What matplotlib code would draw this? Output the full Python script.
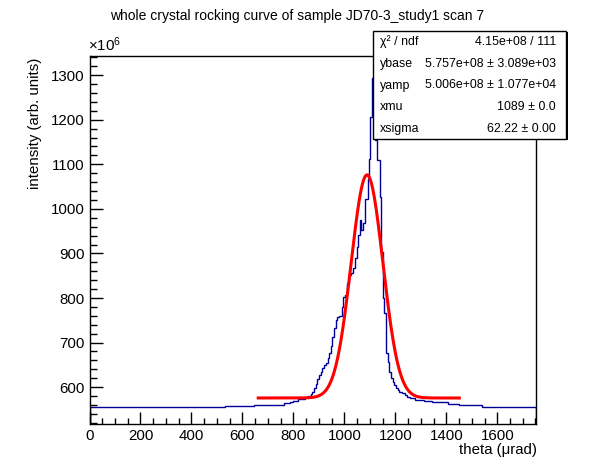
import numpy as np
import matplotlib
matplotlib.use('Agg')
import matplotlib.pyplot as plt
from matplotlib.patches import Rectangle
from matplotlib.ticker import MultipleLocator

plt.rcParams['font.family'] = ['Liberation Sans', 'DejaVu Sans']
plt.rcParams['mathtext.fontset'] = 'custom'
plt.rcParams['mathtext.rm'] = 'Liberation Sans'

# bordes de los bins (urad)
edges = [0, 7, 14, 21, 28, 42, 49, 70, 77, 98, 105, 530, 645, 765, 787, 800,
         820, 846, 859, 868, 875, 881, 888, 894.5, 901, 907.6, 914, 920.7,
         927, 934, 940, 947, 953, 960, 966.5, 973, 980, 990, 996.6, 1003,
         1010, 1019, 1025, 1032, 1040, 1049, 1055.5, 1062, 1066, 1072.5,
         1081.7, 1091, 1096, 1102, 1108, 1120, 1130, 1140.6, 1144.5,
         1151, 1156.3, 1162.8, 1169.4, 1176, 1182.5, 1189, 1195.6, 1202,
         1208.6, 1215.2, 1225.7, 1236.1, 1245.3, 1258.4, 1278, 1310.7,
         1343.4, 1407, 1451, 1541, 1612, 1752]
# contenido de cada bin (x1e6)
counts = [556.5, 555, 556, 555, 555.5, 554.5, 555, 556, 555, 556, 555,
          557.5, 561, 564, 567.7, 570, 573, 577.6, 580.5, 584, 590, 598,
          607, 618, 627.6, 635, 642.6, 650, 655, 665, 676, 692.6, 713.5,
          732, 751, 758, 760, 780.7, 801.8, 807, 833, 852, 856, 867, 889,
          915, 941.5, 975, 953, 968, 1022, 1066, 1112, 1206, 1294, 1155,
          1110, 1027, 904, 800, 766, 676, 657, 635, 620, 612.6, 605, 598,
          594, 590, 586.5, 582.7, 579, 575, 571.5, 570, 566, 562.6, 559.6,
          556.5, 555]

# parametros del ajuste (x1e6 para las alturas)
ybase = 575.7
yamp = 500.6
xmu = 1089.0
xsigma = 62.22
fit_range = (662, 1451)

# caja de estadisticas
stat_names = ['χ² / ndf', 'ybase', 'yamp', 'xmu', 'xsigma']
stat_values = ['4.15e+08 / 111', '5.757e+08 ± 3.089e+03',
               '5.006e+08 ± 1.077e+04', '1089 ± 0.0', '62.22 ± 0.00']

W, H = 596, 472
fig = plt.figure(figsize=(W / 100, H / 100), dpi=100)
ax = fig.add_axes([89.5 / W, 1 - 423.7 / H, (536 - 89.5) / W, (423.7 - 56) / H])

# histograma
ax.stairs(counts, edges, color='#000099', lw=1.0)

# curva del ajuste
xf = np.linspace(fit_range[0], fit_range[1], 500)
yf = ybase + yamp * np.exp(-0.5 * ((xf - xmu) / xsigma) ** 2)
ax.plot(xf, yf, color='#ff0000', lw=2.2)

ax.set_xlim(0, 1752)
ax.set_ylim(518, 1343)
ax.xaxis.set_major_locator(MultipleLocator(200))
ax.xaxis.set_minor_locator(MultipleLocator(50))
ax.yaxis.set_major_locator(MultipleLocator(100))
ax.yaxis.set_minor_locator(MultipleLocator(20))
ax.tick_params(axis='both', which='both', direction='in', top=False, right=False,
               labelsize=10.8, width=1)
ax.tick_params(axis='x', which='major', length=8.6, pad=4)
ax.tick_params(axis='x', which='minor', length=4.3)
ax.tick_params(axis='y', which='major', length=9.5, pad=3.5)
ax.tick_params(axis='y', which='minor', length=5)
for s in ax.spines.values():
    s.set_linewidth(1)

# textos
fig.text(297 / W, 1 - 16 / H, 'whole crystal rocking curve of sample JD70-3_study1 scan 7',
         ha='center', va='center', fontsize=10)
fig.text(537 / W, 1 - 450 / H, 'theta (μrad)', ha='right', va='center', fontsize=10.8)
fig.text(35 / W, 1 - 58 / H, 'intensity (arb. units)', ha='center', va='top',
         rotation=90, fontsize=10.8)
fig.text(88 / W, 1 - 54 / H, r'$\mathregular{\times10^{6}}$', ha='left', va='bottom',
         fontsize=10.8)

# caja de estadisticas con sombra
bx0, by0, bx1, by1 = 373, 31, 566, 139
fig.patches.append(Rectangle(((bx0 + 1.5) / W, 1 - (by1 + 1.5) / H), (bx1 - bx0) / W,
                             (by1 - by0) / H, transform=fig.transFigure,
                             facecolor='black', edgecolor='black', lw=0, zorder=4))
fig.patches.append(Rectangle((bx0 / W, 1 - by1 / H), (bx1 - bx0) / W, (by1 - by0) / H,
                             transform=fig.transFigure, facecolor='white',
                             edgecolor='black', lw=1, zorder=5))
rows = np.linspace(42, 129, len(stat_names))
for yy, name, val in zip(rows, stat_names, stat_values):
    fig.text(380 / W, 1 - yy / H, name, ha='left', va='center', fontsize=8.9, zorder=6)
    fig.text(556 / W, 1 - yy / H, val, ha='right', va='center', fontsize=8.9, zorder=6)

fig.savefig('out.png', dpi=100)
